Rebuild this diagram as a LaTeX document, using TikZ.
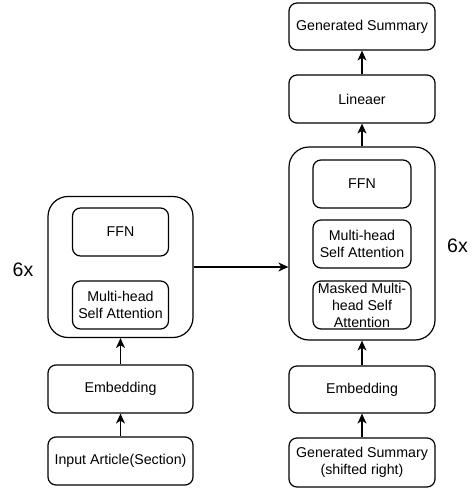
\documentclass[tikz,border=0pt]{standalone}
\usepackage{fontspec}
\setmainfont{Liberation Sans}
\usetikzlibrary{arrows.meta}
\begin{document}
\begin{tikzpicture}[x=1pt,y=-1pt,
  every node/.style={font=\fontsize{14.2}{17}\selectfont, align=center, inner sep=0pt},
  box/.style={draw, line width=1.2pt, rounded corners=8pt, minimum width=#1, minimum height=48pt},
  box/.default=146pt,
  big/.style={draw, line width=1.2pt, rounded corners=20pt},
  lbl/.style={font=\fontsize{19.5}{22}\selectfont},
  arr/.style={-{Stealth[length=10pt,width=9pt,inset=3pt]}, line width=1.2pt}]
\useasboundingbox (0,0) rectangle (473,488);
% encoder
\node[big, minimum width=145pt, minimum height=141pt] (enc) at (120.5,267) {};
\node[box=96pt] (encffn) at (120.5,232) {FFN};
\node[box=96pt] (encmha) at (120.5,305) {Multi-head\\Self Attention};
\node[box=145pt] (encemb) at (120.5,389) {Embedding};
\node[box=145pt] (inp) at (120.5,461) {Input Article(Section)};
\node[lbl] (l6x) at (23,270) {6x};
% decoder
\node[box, minimum height=47pt] (gs) at (362,26.5) {Generated Summary};
\node[box] (lin) at (362,99) {Lineaer};
\node[big, minimum width=146pt, minimum height=193pt] (dec) at (362,243.5) {};
\node[box=98pt] (decffn) at (362,184) {FFN};
\node[box=98pt] (decmha) at (362,244) {Multi-head\\Self Attention};
\node[box=98pt] (mask) at (362,305) {Masked Multi-\\head Self\\Attention};
\node[box, minimum height=47pt] (decemb) at (362,389.5) {Embedding};
\node[box, minimum height=49pt] (gsr) at (362,462.5) {Generated Summary\\(shifted right)};
\node[lbl] (r6x) at (457.5,245.5) {6x};
% connectors
\draw[arr] (inp) -- (encemb);
\draw[arr] (encemb) -- (enc);
\draw[arr] (enc.east) -- (dec.west |- enc.east);
\draw[arr] (gsr) -- (decemb);
\draw[arr] (decemb) -- (dec);
\draw[arr] (dec) -- (lin);
\draw[arr] (lin) -- (gs);
\end{tikzpicture}
\end{document}
